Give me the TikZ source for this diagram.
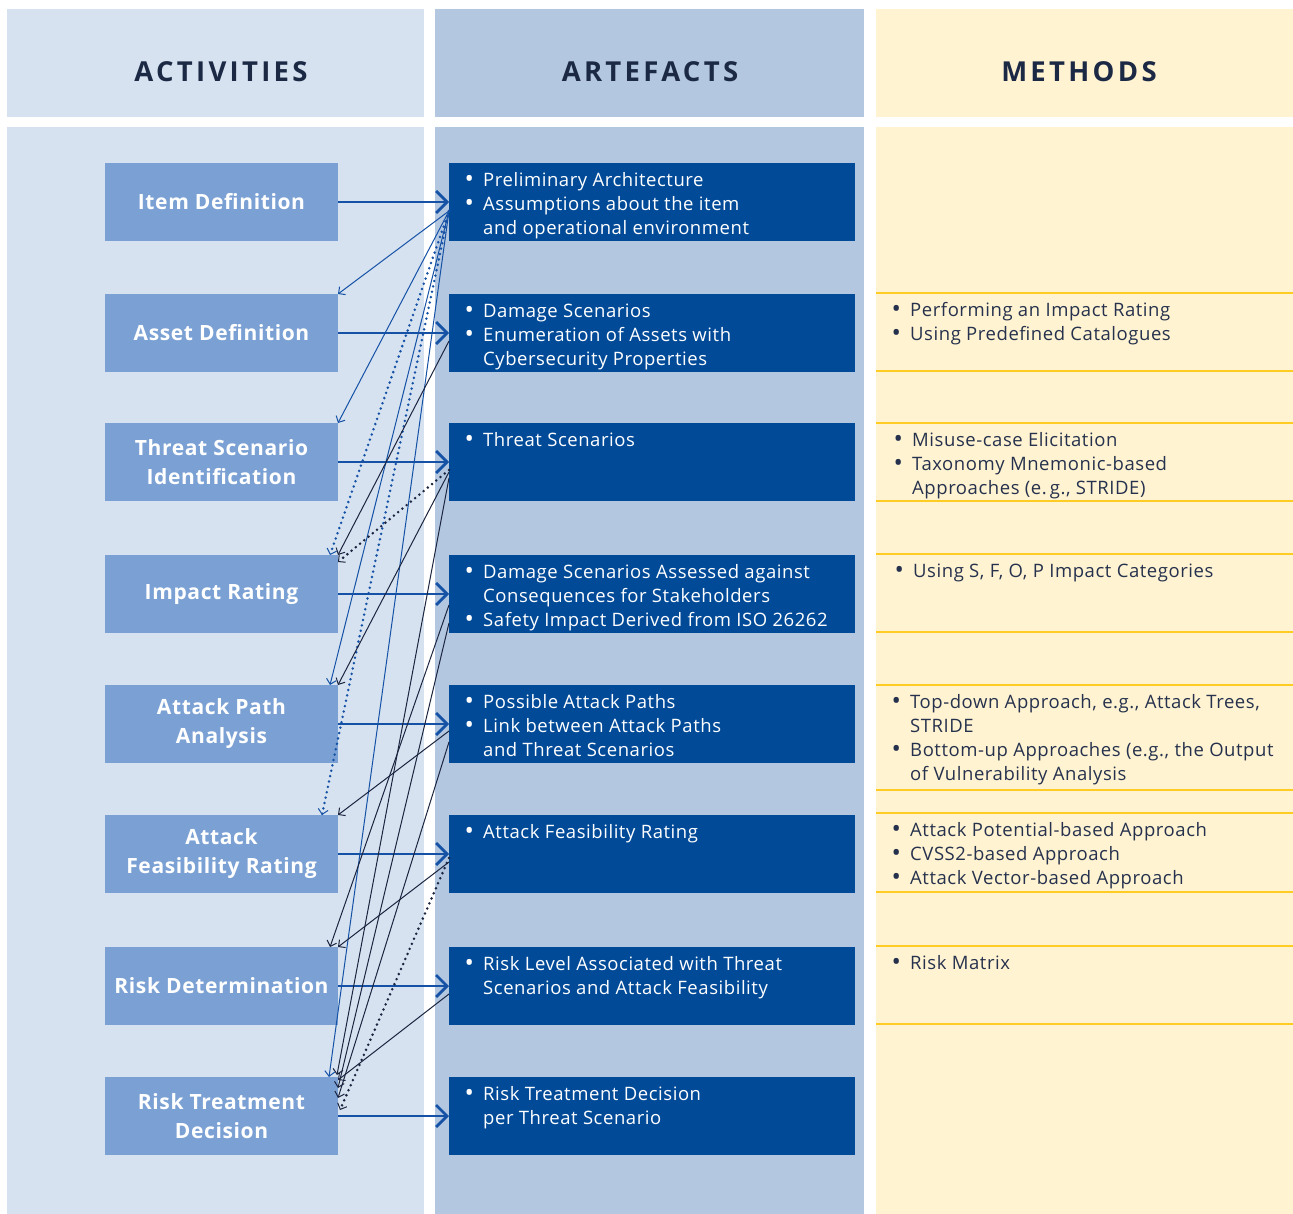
\documentclass[tikz,border=0pt]{standalone}
\usepackage{fontspec}
\setmainfont{Open Sans}[LetterSpace=3.0]
\newfontfamily\hdrfont{Open Sans}[LetterSpace=12.0]
\usetikzlibrary{arrows.meta}
\definecolor{actbg}{HTML}{D6E2F0}
\definecolor{artbg}{HTML}{B3C7E0}
\definecolor{metbg}{HTML}{FFF3D2}
\definecolor{yline}{HTML}{FFCC23}
\definecolor{actbox}{HTML}{7BA1D4}
\definecolor{artbox}{HTML}{004A98}
\definecolor{hdrtext}{HTML}{1B2945}
\definecolor{mettext}{HTML}{26324D}
\definecolor{lblue}{HTML}{1552A6}
\definecolor{ldark}{HTML}{1C2540}
\newcommand\bul{\makebox[19pt][l]{\hspace{0.5pt}\raisebox{-1pt}{\scalebox{1.35}{\textbullet}}}}
\newcommand\ind{\hspace*{19pt}}
\newcommand\blist[1]{\parbox[t]{420pt}{\raggedright #1}}
\begin{document}
\begin{tikzpicture}[x=1pt,y=-1pt,
  hdr/.style={text=hdrtext, font=\hdrfont\bfseries\fontsize{27.5}{30}\selectfont, inner sep=0pt},
  act/.style={fill=actbox, minimum width=233pt, minimum height=78pt, inner sep=0pt, outer sep=0pt,
    text=white, align=center, font=\bfseries\fontsize{21}{29}\selectfont},
  art/.style={fill=artbox, minimum width=406pt, minimum height=78pt, inner sep=0pt, outer sep=0pt},
  arttxt/.style={anchor=base west, inner sep=0pt, text=white, font=\fontsize{18.5}{24}\selectfont},
  mettxt/.style={anchor=base west, inner sep=0pt, text=mettext, font=\fontsize{18.5}{24}\selectfont},
  rowline/.style={draw=yline, line width=2.4pt},
  thickarr/.style={draw=lblue, line width=2.6pt, -{Straight Barb[length=11pt,width=22pt,line width=2.8pt]}},
  conn/.style={line width=1pt, -{Straight Barb[length=5pt,width=10pt,line width=1pt]}},
  dotconn/.style={line width=2.8pt, line cap=round, dash pattern=on 0pt off 5.5pt,
    -{Straight Barb[length=5pt,width=10pt,line width=1pt]}}
]
\useasboundingbox (0,0) rectangle (1293,1214);
\fill[white] (0,0) rectangle (1293,1214);
% columns
\fill[actbg] (7,9) rectangle (424,117);
\fill[actbg] (7,127) rectangle (424,1214);
\fill[artbg] (435,9) rectangle (864,117);
\fill[artbg] (435,127) rectangle (864,1214);
\fill[metbg] (876,9) rectangle (1293,117);
\fill[metbg] (876,127) rectangle (1293,1214);
% headers
\node[hdr] (hA) at (221,72) {ACTIVITIES};
\node[hdr] (hR) at (650,72) {ARTEFACTS};
\node[hdr] (hM) at (1079,72) {METHODS};
% method row lines
\foreach \yy in {293,371,423,501,554,632,685,790,813,892,946,1024}
  \draw[rowline] (876,\yy) -- (1293,\yy);
% activities
\node[act] (a1) at (221.5,202) {Item Definition};
\node[act] (a2) at (221.5,333) {Asset Definition};
\node[act] (a3) at (221.5,462) {Threat Scenario\\Identification};
\node[act] (a4) at (221.5,594) {Impact Rating};
\node[act] (a5) at (221.5,724) {Attack Path\\Analysis};
\node[act] (a6) at (221.5,854) {Attack\\Feasibility Rating};
\node[act] (a7) at (221.5,986) {Risk Determination};
\node[act] (a8) at (221.5,1116) {Risk Treatment\\Decision};
% artefacts
\node[art] (r1) at (652,202) {};
\node[art] (r2) at (652,333) {};
\node[art] (r3) at (652,462) {};
\node[art] (r4) at (652,594) {};
\node[art] (r5) at (652,724) {};
\node[art] (r6) at (652,854) {};
\node[art] (r7) at (652,986) {};
\node[art] (r8) at (652,1116) {};
\node[arttxt] (t1) at ([xshift=15pt,yshift=-23.5pt]r1.north west) {\blist{\bul Preliminary Architecture\\ \bul Assumptions about the item\\ \ind and operational environment}};
\node[arttxt] (t2) at ([xshift=15pt,yshift=-23.5pt]r2.north west) {\blist{\bul Damage Scenarios\\ \bul Enumeration of Assets with\\ \ind Cybersecurity Properties}};
\node[arttxt] (t3) at ([xshift=15pt,yshift=-23.5pt]r3.north west) {\blist{\bul Threat Scenarios}};
\node[arttxt] (t4) at ([xshift=15pt,yshift=-23.5pt]r4.north west) {\blist{\bul Damage Scenarios Assessed against\\ \ind Consequences for Stakeholders\\ \bul Safety Impact Derived from ISO 26262}};
\node[arttxt] (t5) at ([xshift=15pt,yshift=-23.5pt]r5.north west) {\blist{\bul Possible Attack Paths\\ \bul Link between Attack Paths\\ \ind and Threat Scenarios}};
\node[arttxt] (t6) at ([xshift=15pt,yshift=-23.5pt]r6.north west) {\blist{\bul Attack Feasibility Rating}};
\node[arttxt] (t7) at ([xshift=15pt,yshift=-23.5pt]r7.north west) {\blist{\bul Risk Level Associated with Threat\\ \ind Scenarios and Attack Feasibility}};
\node[arttxt] (t8) at ([xshift=15pt,yshift=-23.5pt]r8.north west) {\blist{\bul Risk Treatment Decision\\ \ind per Threat Scenario}};
% methods
\node[mettxt] (m1) at (891,316.5) {\blist{\bul Performing an Impact Rating\\ \bul Using Predefined Catalogues}};
\node[mettxt] (m2) at (893,446.5) {\blist{\bul Misuse-case Elicitation\\ \bul Taxonomy Mnemonic-based\\ \ind Approaches (e.\,g., STRIDE)}};
\node[mettxt] (m3) at (894,577.5) {\blist{\bul Using S, F, O, P Impact Categories}};
\node[mettxt] (m4) at (891,708.5) {\blist{\bul Top-down Approach, e.g., Attack Trees,\\ \ind STRIDE\\ \bul Bottom-up Approaches (e.g., the Output\\ \ind of Vulnerability Analysis}};
\node[mettxt] (m5) at (891,836.5) {\blist{\bul Attack Potential-based Approach\\ \bul CVSS2-based Approach\\ \bul Attack Vector-based Approach}};
\node[mettxt] (m6) at (891,969.5) {\blist{\bul Risk Matrix}};
% thick horizontal arrows
\foreach \i in {1,...,8}
  \draw[thickarr] (a\i.east) -- (r\i.west);
% connectors from Item Definition artefacts
\draw[conn, lblue] ([yshift=-9pt]r1.west) -- (a2.north east);
\draw[conn, lblue] ([yshift=-9pt]r1.west) -- (a3.north east);
\draw[dotconn, lblue] ([yshift=-9pt]r1.west) -- ([xshift=-8pt]a4.north east);
\draw[conn, lblue] ([yshift=-9pt]r1.west) -- ([xshift=-8pt]a5.north east);
\draw[dotconn, lblue] ([yshift=-9pt]r1.west) -- ([xshift=-16pt]a6.north east);
\draw[conn, lblue] ([yshift=-9pt]r1.west) -- ([xshift=-9pt]a8.north east);
% other connectors
\draw[conn, ldark] ([yshift=-8pt]r2.west) -- (a4.north east);
\draw[dotconn, ldark] ([yshift=-8pt]r3.west) -- ([yshift=-7pt]a4.north east);
\draw[conn, ldark] ([yshift=-10pt]r3.west) -- (a5.north east);
\draw[conn, ldark] ([yshift=-16pt]r3.west) -- ([xshift=-1pt,yshift=2pt]a8.north east);
\draw[conn, ldark] ([yshift=-11pt]r4.west) -- ([xshift=-8pt]a7.north east);
\draw[conn, ldark] ([yshift=-29pt]r4.west) -- ([yshift=-11pt]a8.north east);
\draw[conn, ldark] ([yshift=-7pt]r5.west) -- (a6.north east);
\draw[conn, ldark] ([yshift=-18pt]r5.west) -- ([yshift=-21pt]a8.north east);
\draw[conn, ldark] ([yshift=-8pt]r6.west) -- (a7.north east);
\draw[dotconn, ldark] ([yshift=-4pt]r6.west) -- ([xshift=2pt,yshift=-33pt]a8.north east);
\draw[conn, ldark] ([yshift=-8pt]r7.west) -- ([yshift=-3pt]a8.north east);
\end{tikzpicture}
\end{document}
